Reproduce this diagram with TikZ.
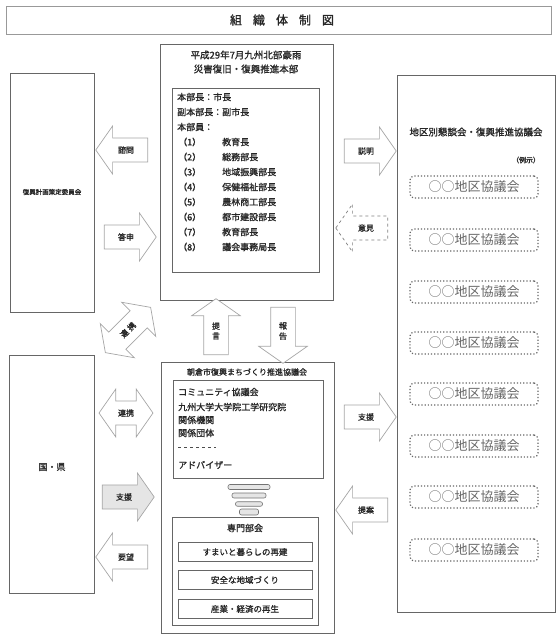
\documentclass[tikz,border=0pt]{standalone}
\usepackage{fontspec}
\setmainfont{Noto Sans CJK JP}[AutoFakeBold=1.2]
\usetikzlibrary{shapes.arrows}
\begin{document}
\begin{tikzpicture}[x=1pt,y=-1pt]
\tikzset{
 frame/.style={draw=black!60, line width=0.9pt, inner sep=0pt, anchor=north west},
 t/.style={text=black!85, font=\fontsize{9}{10}\selectfont\bfseries, inner sep=0pt},
 barr/.style={single arrow, draw=black!35, fill=white, line width=0.7pt,
   single arrow head extend=12pt, single arrow tip angle=110,
   minimum height=52pt, inner xsep=4pt, inner ysep=8pt,
   text=black!85, font=\fontsize{8}{9}\selectfont\bfseries},
 darr/.style={double arrow, draw=black!35, fill=white, line width=0.7pt,
   double arrow head extend=12pt, double arrow tip angle=110,
   minimum height=54pt, inner xsep=4pt, inner ysep=8pt,
   text=black!85, font=\fontsize{8}{9}\selectfont\bfseries},
 dbox/.style={draw=black!60, dotted, line width=1.2pt, rounded corners=4pt,
   minimum width=128pt, minimum height=22pt, inner sep=0pt,
   text=black!60, font=\fontsize{13}{13}\selectfont},
 subbox/.style={draw=black!60, line width=0.8pt, minimum width=134pt,
   minimum height=19pt, inner sep=0pt, text=black!85, font=\fontsize{8.5}{9}\selectfont\bfseries},
 fbar/.style={draw=black!55, fill=black!10, rounded corners=2pt, inner sep=0pt, line width=0.6pt}
}
\useasboundingbox (0,0) rectangle (557,640);
% title
\node[draw=black!40, line width=0.8pt, minimum width=545pt, minimum height=28pt, inner sep=0pt] (titlebar) at (278.5,20) {};
\node[t, font=\fontsize{12}{12}\selectfont\bfseries] (title) at (282,20) {組\hspace{11pt}織\hspace{11pt}体\hspace{11pt}制\hspace{11pt}図};
% HQ
\node[frame, minimum width=173pt, minimum height=256pt] (hq) at (160,44) {};
\node[t, font=\fontsize{9.5}{10}\selectfont\bfseries] (hqt1) at (246,55) {平成29年7月九州北部豪雨};
\node[t, font=\fontsize{9.5}{10}\selectfont\bfseries] (hqt2) at (246,69) {災害復旧・復興推進本部};
\node[frame, minimum width=147pt, minimum height=184pt] (hqin) at (172,88) {};
\node[t, anchor=west] (m1) at (177,97) {本部長：市長};
\node[t, anchor=west] (m2) at (177,112) {副本部長：副市長};
\node[t, anchor=west] (m3) at (177,127) {本部員：};
\foreach \i/\y/\n in {1/142/教育長,2/157/総務部長,3/172/地域振興部長,4/187/保健福祉部長,5/202/農林商工部長,6/217/都市建設部長,7/232/教育部長,8/247/議会事務局長}{
  \node[t, anchor=west] (n\i) at (178,\y) {（\i）};
  \node[t, anchor=west] (r\i) at (222,\y) {\n};
}
% left boxes
\node[frame, minimum width=84pt, minimum height=239pt] (lt) at (10,73) {};
\node[t, font=\fontsize{6.5}{7}\selectfont\bfseries] (ltt) at (52,192) {復興計画策定委員会};
\node[frame, minimum width=85pt, minimum height=238pt] (lb) at (9,355) {};
\node[t] (lbt) at (52,467) {国・県};
% bottom center
\node[frame, minimum width=173pt, minimum height=271pt] (bc) at (161,362) {};
\node[t, font=\fontsize{8}{9}\selectfont\bfseries] (bct) at (247,372) {朝倉市復興まちづくり推進協議会};
\node[frame, minimum width=150pt, minimum height=98pt] (bcin) at (173,380) {};
\node[t, anchor=west] (b1) at (178,392) {コミュニティ協議会};
\node[t, anchor=west] (b2) at (178,407) {九州大学大学院工学研究院};
\node[t, anchor=west] (b3) at (178,420) {関係機関};
\node[t, anchor=west] (b4) at (178,433) {関係団体};
\draw[black!70, dashed, line width=0.8pt] (178,447) -- (216,447);
\node[t, anchor=west] (b5) at (178,465) {アドバイザー};
\node[fbar, minimum width=42pt, minimum height=5pt] (f1) at (249,487) {};
\node[fbar, minimum width=34pt, minimum height=5pt] (f2) at (249,495.5) {};
\node[fbar, minimum width=27pt, minimum height=4.5pt] (f3) at (249,504) {};
\node[fbar, minimum width=19pt, minimum height=6pt] (f4) at (249,512) {};
\node[frame, minimum width=146pt, minimum height=108pt] (sp) at (172,517) {};
\node[t] (spt) at (245,528) {専門部会};
\node[subbox] (s1) at (245,552) {すまいと暮らしの再建};
\node[subbox] (s2) at (245,580) {安全な地域づくり};
\node[subbox] (s3) at (245,609) {産業・経済の再生};
% right box
\node[frame, minimum width=158pt, minimum height=537pt] (rb) at (397,75) {};
\node[t, font=\fontsize{9.5}{10}\selectfont\bfseries] (rbt) at (476,132) {地区別懇談会・復興推進協議会};
\node[t, font=\fontsize{7}{8}\selectfont\bfseries] (tag) at (526,160) {（例示）};
\foreach \i/\y in {1/187,2/240,3/292,4/343,5/394,6/446,7/497,8/550}{
  \node[dbox] (d\i) at (474,\y) {○○地区協議会};
}
% arrows left
\node[barr, shape border rotate=180] (a1) at (126,150) {諮問};
\node[barr] (a2) at (126,237) {答申};
\node[darr, rotate=45, minimum height=64pt] (a3) at (128,330) {連\hspace{2pt}携};
\node[darr] (a4) at (126,413) {連携};
\node[barr, fill=black!10] (a5) at (124,497) {支援};
\node[barr, shape border rotate=180] (a6) at (126,557) {要望};
% arrows right
\node[barr] (a7) at (366,151) {説明};
\node[barr, shape border rotate=180, draw=black!50, dashed] (a8) at (366,228) {意見};
\node[barr] (a9) at (366,417) {支援};
\node[barr, shape border rotate=180] (a10) at (366,510) {提案};
% up / down
\node[barr, rotate=90, minimum height=56pt] (up) at (216,331) {\rotatebox{-90}{\shortstack{提\\言}}};
\node[barr, rotate=-90, minimum height=56pt] (dn) at (283,331) {\rotatebox{90}{\shortstack{報\\告}}};
\end{tikzpicture}
\end{document}
